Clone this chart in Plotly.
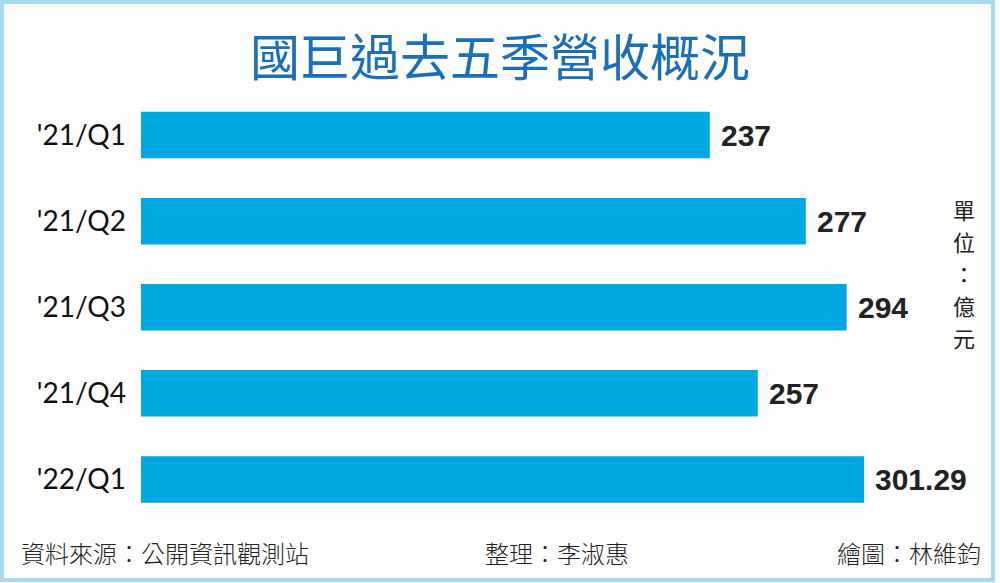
import plotly.graph_objects as go

# data
quarters = ["'21/Q1", "'21/Q2", "'21/Q3", "'21/Q4", "'22/Q1"]
revenue = [237, 277, 294, 257, 301.29]
value_labels = ["237", "277", "294", "257", "301.29"]
unit_chars = ["單", "位", "：", "億", "元"]

W, H = 1000, 583

def px(x):
    return x / W

def py(y):
    return 1 - y / H

fig = go.Figure()
fig.add_trace(
    go.Bar(
        x=revenue,
        y=quarters,
        orientation="h",
        marker=dict(color="#00a8e1", line=dict(width=0)),
        hoverinfo="skip",
    )
)

# value labels just past the bar ends
for q, v, t in zip(quarters, revenue, value_labels):
    fig.add_annotation(
        x=v, y=q, text=t, showarrow=False,
        xanchor="left", yanchor="middle", xshift=9,
        font=dict(family="Liberation Sans", size=30, color="#222222", weight="bold"),
    )

# vertical unit text on the right, stacked char by char
for i, ch in enumerate(unit_chars):
    fig.add_annotation(
        x=px(964), y=py(209 + i * 32), xref="paper", yref="paper",
        text=ch, showarrow=False, xanchor="center", yanchor="middle",
        borderpad=0,
        font=dict(family="Noto Sans CJK TC", size=22, color="#222222"),
    )

# title
fig.add_annotation(
    x=px(500), y=py(54), xref="paper", yref="paper",
    text="國巨過去五季營收概況", showarrow=False,
    xanchor="center", yanchor="middle",
    font=dict(family="Noto Sans CJK TC", size=50, color="#1a6fb8", weight=400),
)

# footer
footer_font = dict(family="Noto Sans CJK TC", size=24, color="#222222", weight=300)
fig.add_annotation(x=px(19), y=py(552), xref="paper", yref="paper",
                   text="資料來源：公開資訊觀測站", showarrow=False,
                   xanchor="left", yanchor="middle", font=footer_font)
fig.add_annotation(x=px(557), y=py(552), xref="paper", yref="paper",
                   text="整理：李淑惠", showarrow=False,
                   xanchor="center", yanchor="middle", font=footer_font)
fig.add_annotation(x=px(983), y=py(552), xref="paper", yref="paper",
                   text="繪圖：林維鈞", showarrow=False,
                   xanchor="right", yanchor="middle", font=footer_font)

# light blue frame
fig.add_shape(
    type="rect", xref="paper", yref="paper",
    x0=px(2), x1=px(993), y0=py(580), y1=py(2),
    line=dict(color="#a6dbf3", width=4), fillcolor="rgba(0,0,0,0)",
)

fig.update_layout(
    width=W, height=H,
    margin=dict(l=0, r=0, t=0, b=0),
    paper_bgcolor="white", plot_bgcolor="white",
    showlegend=False,
    bargap=0.46,
)
fig.update_xaxes(
    domain=[px(141), px(981)], range=[0, 350],
    visible=False, fixedrange=True,
)
fig.update_yaxes(
    domain=[py(522.5), py(92)], autorange="reversed",
    showgrid=False, zeroline=False, showline=False,
    ticks="", ticklabelstandoff=14, automargin=False,
    tickfont=dict(family="Lato", size=28, color="#111111"),
    fixedrange=True,
)

fig.write_html(
    "out.html",
    config={"displayModeBar": False},
    post_script="document.body.style.margin='0';document.body.style.overflow='hidden';",
)
